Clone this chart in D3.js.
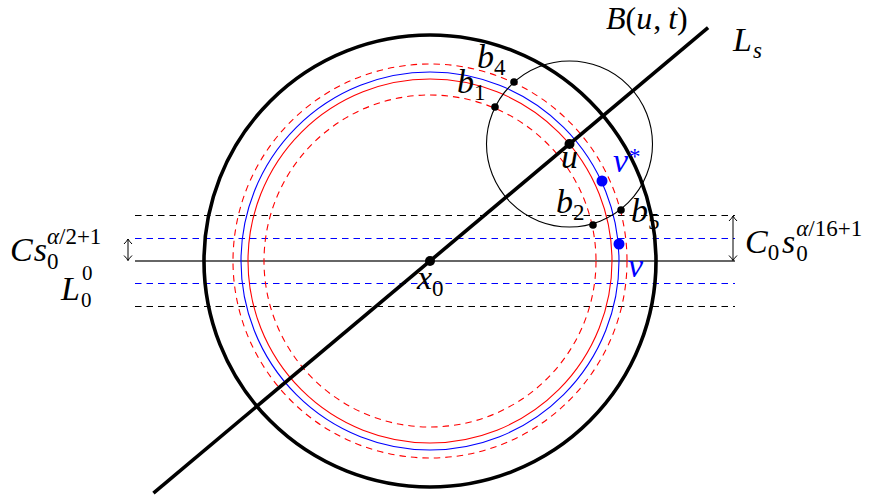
<!DOCTYPE html>
<html><head><meta charset="utf-8">
<script src="https://cdn.jsdelivr.net/npm/d3@7"></script>
<style>body{margin:0;background:#fff}svg{display:block}text{font-family:"Liberation Serif","Times New Roman",serif}</style>
</head><body><svg id="c" width="873" height="502"></svg>
<script>
// ---- data (diagram units, origin at x0, y up) ----
const circleNames = ["outer","dashOuter","blue","red","dashInner"];
const circleRadii = [226, 197, 189, 182, 166];
const hLineNames = ["blackTop","blueTop","L00","blueBot","blackBot"];
const hLineOffsets = [45.5, 22.5, 0, -22.5, -45.5];
const hLineExtent = [-295, 305];
const lineAngleDeg = 40;
const lineExtent = [-361, 363];
const pointNames = ["x0","u","vstar","v","b4","b1","b2","b5"];
const pointX = [0, 139.5, 172, 189, 84, 65, 163, 191];
const pointY = [0, 117, 80, 17, 179, 154, 36, 51];
const ballRadius = 83;
const arrowX = [-302, 303];
const arrowFrom = [22.5, 45.5];
const arrowTo = [0, 0];

const svg = d3.select("#c");
const x = d3.scaleLinear().domain([-430, 443]).range([0, 873]);
const y = d3.scaleLinear().domain([261, -241]).range([0, 502]);
const rs = r => x(r) - x(0);

// horizontal lines
const hStyle = {blackTop:["#000","6.5,5",1.2], blueTop:["#0000ff","6.5,5",1.2], L00:["#666",null,2], blueBot:["#0000ff","6.5,5",1.2], blackBot:["#000","6.5,5",1.2]};
svg.append("g").selectAll("line").data(hLineNames).join("line")
  .attr("x1", x(hLineExtent[0])).attr("x2", x(hLineExtent[1]))
  .attr("y1", (d,i)=>y(hLineOffsets[i])).attr("y2", (d,i)=>y(hLineOffsets[i]))
  .attr("stroke", d=>hStyle[d][0]).attr("stroke-dasharray", d=>hStyle[d][1]).attr("stroke-width", d=>hStyle[d][2]);

// circles
const cStyle = {outer:["#000",null,3.6], dashOuter:["#ff0000","6.5,5",1.1], blue:["#0000ff",null,1.1], red:["#ff0000",null,1.1], dashInner:["#ff0000","6.5,5",1.1]};
svg.append("g").selectAll("circle").data(circleNames).join("circle")
  .attr("cx", x(0)).attr("cy", y(0)).attr("r", (d,i)=>rs(circleRadii[i]))
  .attr("fill","none").attr("stroke", d=>cStyle[d][0]).attr("stroke-dasharray", d=>cStyle[d][1]).attr("stroke-width", d=>cStyle[d][2]);

// line L_s
const a = lineAngleDeg*Math.PI/180;
svg.append("line")
  .attr("x1", x(lineExtent[0]*Math.cos(a))).attr("y1", y(lineExtent[0]*Math.sin(a)))
  .attr("x2", x(lineExtent[1]*Math.cos(a))).attr("y2", y(lineExtent[1]*Math.sin(a)))
  .attr("stroke","#000").attr("stroke-width",3.6);

// ball B(u,t)
const ui = pointNames.indexOf("u");
svg.append("circle").attr("cx", x(pointX[ui])).attr("cy", y(pointY[ui])).attr("r", rs(ballRadius))
  .attr("fill","none").attr("stroke","#000").attr("stroke-width",1.1);

// arrows
const defs = svg.append("defs");
defs.append("marker").attr("id","ah").attr("viewBox","-6 -5 8 10").attr("refX",0).attr("refY",0)
  .attr("markerWidth",8).attr("markerHeight",10).attr("markerUnits","userSpaceOnUse").attr("orient","auto-start-reverse")
  .append("path").attr("d","M-5,-4 Q-2,-1 0,0 Q-2,1 -5,4").attr("fill","none").attr("stroke","#000").attr("stroke-width",1);
svg.append("g").selectAll("line").data(arrowX).join("line")
  .attr("x1", d=>x(d)).attr("x2", d=>x(d))
  .attr("y1", (d,i)=>y(arrowFrom[i])+0.5).attr("y2", (d,i)=>y(arrowTo[i])-0.5)
  .attr("stroke","#000").attr("stroke-width",1)
  .attr("marker-start","url(#ah)").attr("marker-end","url(#ah)");

// points
const pStyle = {x0:["#000",5], u:["#000",5], vstar:["#0000ff",5.5], v:["#0000ff",5.5], b4:["#000",3.8], b1:["#000",3.8], b2:["#000",3.8], b5:["#000",3.8]};
svg.append("g").selectAll("circle").data(pointNames).join("circle")
  .attr("cx",(d,i)=>x(pointX[i])).attr("cy",(d,i)=>y(pointY[i]))
  .attr("r", d=>pStyle[d][1]).attr("fill", d=>pStyle[d][0]);

// math-like label: base parts [text, italic?, dx], then optional sub / sup stacked after
const FS = 34, SS = 23;
function mlabel(px, py, color, base, sub, sup, opts){
  opts = opts || {};
  const fs = opts.fs || FS;
  const ss = opts.ss || SS;
  const g = svg.append("g").attr("fill", color);
  const t = g.append("text").attr("x",px).attr("y",py).attr("font-size",fs);
  base.forEach(([s,it,dx])=>{
    const sp = t.append("tspan").text(s).attr("font-style", it ? "italic" : "normal");
    if (dx) sp.attr("dx", dx);
  });
  const endX = px + t.node().getComputedTextLength() + (opts.gap||0);
  if (sub){
    const st = g.append("text").attr("x", endX + (opts.subDx||0)).attr("y", py + (opts.subDy||7)).attr("font-size",ss);
    sub.forEach(([s,it])=>st.append("tspan").text(s).attr("font-style", it?"italic":"normal"));
  }
  if (sup){
    const st = g.append("text").attr("x", endX + (opts.supDx||0)).attr("y", py - (opts.supDy||14)).attr("font-size",ss);
    sup.forEach(([s,it])=>st.append("tspan").text(s).attr("font-style", it?"italic":"normal"));
  }
}
mlabel(606, 29, "#000", [["B",true],["(",false],["u",true],[",",false,1],["t",true,7],[")",false]], null, null, {fs:32});
mlabel(733, 51, "#000", [["L",true]], [["s",true]], null, {subDx:1});
mlabel(477, 68, "#000", [["b",true]], [["4",false]]);
mlabel(457, 93, "#000", [["b",true]], [["1",false]]);
mlabel(561, 168, "#000", [["u",true]]);
mlabel(613, 172, "#0000ff", [["v",true]], null, [["*",false]], {supDy:8, supDx:1});
mlabel(556, 213, "#000", [["b",true]], [["2",false]]);
mlabel(631, 222, "#000", [["b",true]], [["5",false]]);
mlabel(628, 277, "#0000ff", [["v",true]]);
mlabel(417, 289, "#000", [["x",true]], [["0",false]]);
mlabel(10, 261, "#000", [["C",true],["s",true,1]], [["0",false]], [["α",true],["/2+1",false]], {subDy:8, supDy:17, gap:1});
mlabel(745, 253, "#000", [["C",true]], [["0",false]], null, {});
mlabel(782, 253, "#000", [["s",true]], [["0",false]], [["α",true],["/16+1",false]], {subDy:8, supDy:17, gap:1});
mlabel(61, 300, "#000", [["L",true]], [["0",false]], [["0",false]], {subDy:7, supDy:20, subDx:1, supDx:2, ss:21});
</script></body></html>
